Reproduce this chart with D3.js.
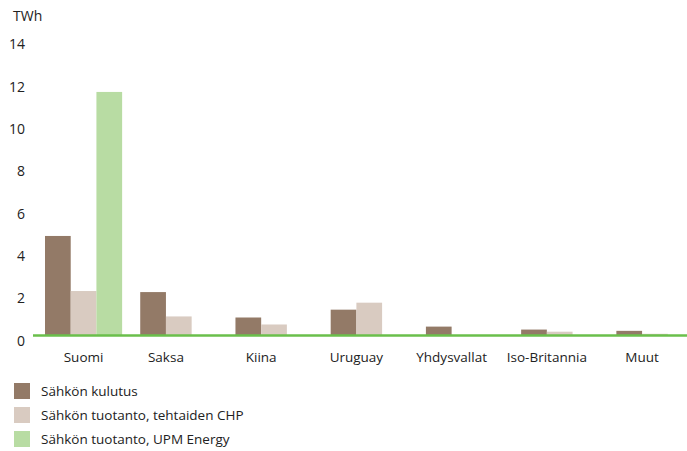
<!DOCTYPE html>
<html>
<head>
<meta charset="utf-8">
<script src="https://cdn.jsdelivr.net/npm/d3@7"></script>
<style>
  body { margin: 0; background: #fff; }
  svg { display: block; font-family: "Open Sans", sans-serif; }
</style>
</head>
<body>
<div class="BarGraph"></div>
<script>
// data
const categories = ["Suomi", "Saksa", "Kiina", "Uruguay", "Yhdysvallat", "Iso-Britannia", "Muut"];
const seriesNames = ["Sähkön kulutus", "Sähkön tuotanto, tehtaiden CHP", "Sähkön tuotanto, UPM Energy"];
const kulutus = [4.7, 2.05, 0.85, 1.22, 0.42, 0.28, 0.22];
const chp = [2.1, 0.9, 0.52, 1.55, 0, 0.18, 0.08];
const upmEnergy = [11.5, null, null, null, null, null, null];
const yTicks = [0, 2, 4, 6, 8, 10, 12, 14];
const unitLabel = "TWh";

const width = 687, height = 451;
const colors = ["#937a67", "#d9cbc1", "#b8dca3"];
const baseColor = "#6abf4b";

const seriesValues = [kulutus, chp, upmEnergy];
const data = categories.map((c, i) => ({
  category: c,
  values: seriesValues.map((s, k) => ({ key: k, value: s[i] }))
}));

//y scale
const y = d3.scaleLinear()
  .domain([0, 14])
  .range([335.5, 39]);

//x scale (groups)
const x0 = d3.scaleBand()
  .domain(categories)
  .range([45, 693.5])
  .paddingInner(0.19)
  .paddingOuter(0);

//x scale (bars inside a group)
const x1 = d3.scaleBand()
  .domain([0, 1, 2])
  .range([0, x0.bandwidth()]);

const svg = d3.select(".BarGraph").append("svg")
  .attr("width", width)
  .attr("height", height);

//unit label
svg.append("text")
  .attr("x", 13)
  .attr("y", 21)
  .attr("font-size", 14)
  .attr("fill", "#222")
  .text(unitLabel);

//y axis (labels only)
svg.append("g")
  .attr("transform", "translate(25,0)")
  .call(d3.axisLeft(y).tickValues(yTicks).tickSize(0).tickPadding(0))
  .call(g => g.select(".domain").remove())
  .call(g => g.selectAll("text")
    .attr("dy", "0.7em")
    .attr("font-size", 14)
    .attr("font-family", "\"Open Sans\", sans-serif")
    .attr("fill", "#222"));

//bars
const groups = svg.append("g")
  .selectAll("g")
  .data(data)
  .join("g")
  .attr("transform", d => `translate(${x0(d.category)},0)`);

groups.selectAll("rect")
  .data(d => d.values.filter(v => v.value !== null))
  .join("rect")
  .attr("x", v => x1(v.key))
  .attr("width", x1.bandwidth())
  .attr("y", v => y(v.value))
  .attr("height", v => y(0) - y(v.value))
  .attr("fill", v => colors[v.key]);

//baseline
svg.append("line")
  .attr("x1", 33)
  .attr("x2", width)
  .attr("y1", y(0))
  .attr("y2", y(0))
  .attr("stroke", baseColor)
  .attr("stroke-width", 2.5);

//category labels, centred on the bars that exist for the category
svg.append("g")
  .selectAll("text")
  .data(data)
  .join("text")
  .attr("x", d => {
    const n = d.values.filter(v => v.value !== null).length;
    return x0(d.category) + x1.step() * n / 2;
  })
  .attr("y", 362)
  .attr("text-anchor", "middle")
  .attr("font-size", 13.5)
  .attr("fill", "#222")
  .text(d => d.category);

//legend
const legend = svg.append("g")
  .selectAll("g")
  .data(seriesNames)
  .join("g")
  .attr("transform", (d, i) => `translate(14,${383 + i * 24})`);

legend.append("rect")
  .attr("width", 16)
  .attr("height", 16)
  .attr("fill", (d, i) => colors[i]);

legend.append("text")
  .attr("x", 27)
  .attr("y", 8)
  .attr("dy", "0.35em")
  .attr("font-size", 13.5)
  .attr("fill", "#222")
  .text(d => d);
</script>
</body>
</html>
